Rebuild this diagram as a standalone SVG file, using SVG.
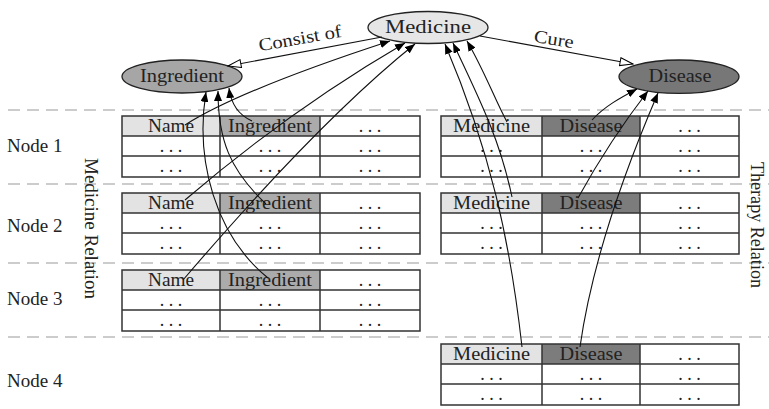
<svg xmlns="http://www.w3.org/2000/svg" width="769" height="409" viewBox="0 0 769 409">
<style>
text{font-family:"Liberation Serif","Times New Roman",serif;fill:#222}
.h{font-size:18px;text-anchor:middle}
.d{font-size:18px;text-anchor:middle}
.lab{font-size:19px}
.lt{fill:#e3e3e3}
.mg{fill:#ababab}
.dk{fill:#7c7c7c}
.wh{fill:#fff}
.grid{fill:none;stroke:#333;stroke-width:1.5}
.dash{stroke:#9a9a9a;stroke-width:1.2;stroke-dasharray:12 7}
.e{stroke:#222;stroke-width:1.3}
.c{fill:none;stroke:#111;stroke-width:1.1}
</style>
<defs>
<marker id="fa" viewBox="0 0 10 8" refX="10" refY="4" markerWidth="10" markerHeight="8" markerUnits="userSpaceOnUse" orient="auto"><path d="M0,0 L10,4 L0,8 z" fill="#000"/></marker>
<marker id="ha" viewBox="0 0 15 10" refX="14" refY="5" markerWidth="15" markerHeight="10" markerUnits="userSpaceOnUse" orient="auto"><path d="M1,1 L14,5 L1,9 z" fill="#fff" stroke="#000" stroke-width="1"/></marker>
</defs>

<g id="separators">
<line class="dash" x1="8" y1="110" x2="769" y2="110"/>
<line class="dash" x1="8" y1="184" x2="769" y2="184"/>
<line class="dash" x1="8" y1="263" x2="769" y2="263"/>
<line class="dash" x1="8" y1="337" x2="769" y2="337"/>
</g>

<g id="labels">
<text class="lab" x="7" y="152">Node 1</text>
<text class="lab" x="7" y="232">Node 2</text>
<text class="lab" x="7" y="305">Node 3</text>
<text class="lab" x="7" y="387">Node 4</text>
<text class="lab" transform="translate(85,158) rotate(90)" font-size="18">Medicine Relation</text>
<text class="lab" transform="translate(751,162) rotate(90)" font-size="17" textLength="126" lengthAdjust="spacingAndGlyphs">Therapy Relation</text>
</g>

<g id="medicine-node">
<ellipse class="e" cx="428" cy="27.5" rx="60" ry="16" fill="#e6e6e6"/>
<text class="h" x="428" y="33" textLength="86" lengthAdjust="spacingAndGlyphs">Medicine</text>
</g>
<g id="ingredient-node">
<ellipse class="e" cx="182" cy="76.5" rx="60" ry="16.5" fill="#a6a6a6"/>
<text class="h" x="182" y="82" textLength="84" lengthAdjust="spacingAndGlyphs">Ingredient</text>
</g>
<g id="disease-node">
<ellipse class="e" cx="679" cy="76.7" rx="60" ry="16.7" fill="#777"/>
<text class="h" x="680" y="82" textLength="63" lengthAdjust="spacingAndGlyphs">Disease</text>
</g>

<g id="medicine-table-node1">
<rect class="lt" x="122" y="116" width="98" height="20"/>
<rect class="mg" x="220" y="116" width="100" height="20"/>
<path class="grid" d="M122,116 H420 V177 H122 Z M122,136 H420 M122,156 H420 M220,116 V177 M320,116 V177"/>
<text class="h" x="171" y="132" textLength="46" lengthAdjust="spacingAndGlyphs">Name</text>
<text class="h" x="270" y="132" textLength="84" lengthAdjust="spacingAndGlyphs">Ingredient</text>
<text class="d" x="370" y="132">. . .</text>
<text class="d" x="171" y="152">. . .</text><text class="d" x="270" y="152">. . .</text><text class="d" x="370" y="152">. . .</text>
<text class="d" x="171" y="172">. . .</text><text class="d" x="270" y="172">. . .</text><text class="d" x="370" y="172">. . .</text>
</g>

<g id="medicine-table-node2">
<rect class="lt" x="122" y="193" width="98" height="20"/>
<rect class="mg" x="220" y="193" width="100" height="20"/>
<path class="grid" d="M122,193 H420 V254 H122 Z M122,213 H420 M122,233 H420 M220,193 V254 M320,193 V254"/>
<text class="h" x="171" y="209" textLength="46" lengthAdjust="spacingAndGlyphs">Name</text>
<text class="h" x="270" y="209" textLength="84" lengthAdjust="spacingAndGlyphs">Ingredient</text>
<text class="d" x="370" y="209">. . .</text>
<text class="d" x="171" y="229">. . .</text><text class="d" x="270" y="229">. . .</text><text class="d" x="370" y="229">. . .</text>
<text class="d" x="171" y="249">. . .</text><text class="d" x="270" y="249">. . .</text><text class="d" x="370" y="249">. . .</text>
</g>

<g id="medicine-table-node3">
<rect class="lt" x="122" y="270" width="98" height="20"/>
<rect class="mg" x="220" y="270" width="100" height="20"/>
<path class="grid" d="M122,270 H420 V331 H122 Z M122,290 H420 M122,310 H420 M220,270 V331 M320,270 V331"/>
<text class="h" x="171" y="286" textLength="46" lengthAdjust="spacingAndGlyphs">Name</text>
<text class="h" x="270" y="286" textLength="84" lengthAdjust="spacingAndGlyphs">Ingredient</text>
<text class="d" x="370" y="286">. . .</text>
<text class="d" x="171" y="306">. . .</text><text class="d" x="270" y="306">. . .</text><text class="d" x="370" y="306">. . .</text>
<text class="d" x="171" y="326">. . .</text><text class="d" x="270" y="326">. . .</text><text class="d" x="370" y="326">. . .</text>
</g>

<g id="therapy-table-node1">
<rect class="lt" x="441" y="116" width="101" height="20"/>
<rect class="dk" x="542" y="116" width="98" height="20"/>
<path class="grid" d="M441,116 H739 V177 H441 Z M441,136 H739 M441,156 H739 M542,116 V177 M640,116 V177"/>
<text class="h" x="491.5" y="132" textLength="77" lengthAdjust="spacingAndGlyphs">Medicine</text>
<text class="h" x="591" y="132" textLength="63" lengthAdjust="spacingAndGlyphs">Disease</text>
<text class="d" x="689.5" y="132">. . .</text>
<text class="d" x="491.5" y="152">. . .</text><text class="d" x="591" y="152">. . .</text><text class="d" x="689.5" y="152">. . .</text>
<text class="d" x="491.5" y="172">. . .</text><text class="d" x="591" y="172">. . .</text><text class="d" x="689.5" y="172">. . .</text>
</g>

<g id="therapy-table-node2">
<rect class="lt" x="441" y="193" width="101" height="20"/>
<rect class="dk" x="542" y="193" width="98" height="20"/>
<path class="grid" d="M441,193 H739 V254 H441 Z M441,213 H739 M441,233 H739 M542,193 V254 M640,193 V254"/>
<text class="h" x="491.5" y="209" textLength="77" lengthAdjust="spacingAndGlyphs">Medicine</text>
<text class="h" x="591" y="209" textLength="63" lengthAdjust="spacingAndGlyphs">Disease</text>
<text class="d" x="689.5" y="209">. . .</text>
<text class="d" x="491.5" y="229">. . .</text><text class="d" x="591" y="229">. . .</text><text class="d" x="689.5" y="229">. . .</text>
<text class="d" x="491.5" y="249">. . .</text><text class="d" x="591" y="249">. . .</text><text class="d" x="689.5" y="249">. . .</text>
</g>

<g id="therapy-table-node4">
<rect class="lt" x="441" y="344" width="101" height="20"/>
<rect class="dk" x="542" y="344" width="98" height="20"/>
<path class="grid" d="M441,344 H739 V405 H441 Z M441,364 H739 M441,384 H739 M542,344 V405 M640,344 V405"/>
<text class="h" x="491.5" y="360" textLength="77" lengthAdjust="spacingAndGlyphs">Medicine</text>
<text class="h" x="591" y="360" textLength="63" lengthAdjust="spacingAndGlyphs">Disease</text>
<text class="d" x="689.5" y="360">. . .</text>
<text class="d" x="491.5" y="380">. . .</text><text class="d" x="591" y="380">. . .</text><text class="d" x="689.5" y="380">. . .</text>
<text class="d" x="491.5" y="400">. . .</text><text class="d" x="591" y="400">. . .</text><text class="d" x="689.5" y="400">. . .</text>
</g>

<g id="connectors">
<path class="c" d="M382,37 L228,66" marker-end="url(#ha)"/>
<text class="h" transform="translate(301,44) rotate(-10)" textLength="84" lengthAdjust="spacingAndGlyphs">Consist of</text>
<path class="c" d="M480,36 L633,64" marker-end="url(#ha)"/>
<text class="h" transform="translate(553,45) rotate(9)" textLength="40" lengthAdjust="spacingAndGlyphs">Cure</text>

<path class="c" d="M185,125 Q240,90 390,41" marker-end="url(#fa)"/>
<path class="c" d="M185,200 Q290,110 405,43" marker-end="url(#fa)"/>
<path class="c" d="M183,280 Q320,120 415,44" marker-end="url(#fa)"/>

<path class="c" d="M252,121 Q232,112 229,88" marker-end="url(#fa)"/>
<path class="c" d="M266,204 C230,170 218,140 218,91" marker-end="url(#fa)"/>
<path class="c" d="M268,278 C215,235 195,160 206,92" marker-end="url(#fa)"/>

<path class="c" d="M507,122 C495,100 485,72 467,41" marker-end="url(#fa)"/>
<path class="c" d="M512,197 C500,140 480,100 453,43" marker-end="url(#fa)"/>
<path class="c" d="M522,347 C510,240 490,150 445,44" marker-end="url(#fa)"/>

<path class="c" d="M592,120 C605,106 620,98 637,89" marker-end="url(#fa)"/>
<path class="c" d="M578,198 Q610,140 648,91" marker-end="url(#fa)"/>
<path class="c" d="M580,347 Q595,240 658,93" marker-end="url(#fa)"/>
</g>
</svg>
